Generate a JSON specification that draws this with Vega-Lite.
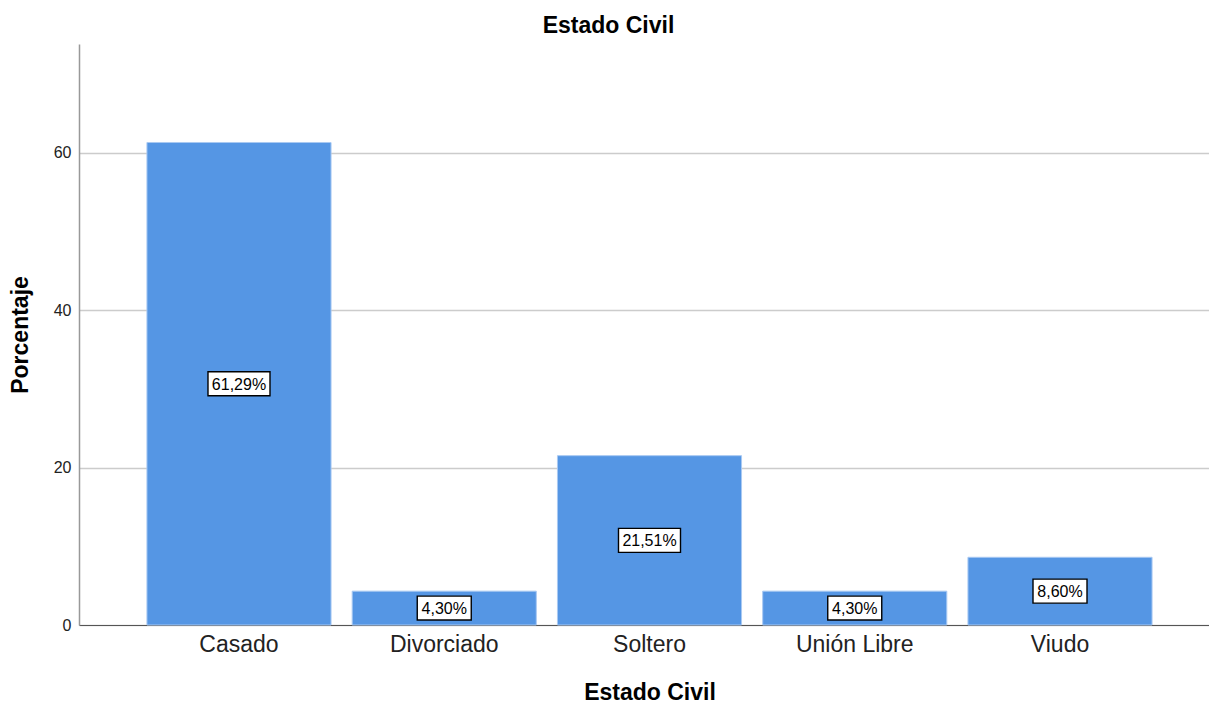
{
  "$schema": "https://vega.github.io/schema/vega-lite/v6.json",
  "autosize": {"type": "none"},
  "padding": {"left": 79, "top": 44, "right": 0, "bottom": 79},
  "width": 1141,
  "height": 581,
  "background": "white",
  "title": {
    "text": "Estado Civil",
    "font": "Liberation Sans",
    "fontSize": 23,
    "fontWeight": "bold",
    "color": "#000000",
    "offset": 6,
    "dx": -41
  },
  "config": {
    "view": {"stroke": null},
    "font": "Liberation Sans"
  },
  "data": {
    "values": [
      {"estado": "Casado", "pct": 61.29, "label": "61,29%"},
      {"estado": "Divorciado", "pct": 4.30, "label": "4,30%"},
      {"estado": "Soltero", "pct": 21.51, "label": "21,51%"},
      {"estado": "Unión Libre", "pct": 4.30, "label": "4,30%"},
      {"estado": "Viudo", "pct": 8.60, "label": "8,60%"}
    ]
  },
  "encoding": {
    "x": {
      "field": "estado",
      "type": "nominal",
      "sort": null,
      "scale": {"paddingInner": 0.103, "paddingOuter": 0.331},
      "axis": {
        "title": "Estado Civil",
        "titleFont": "Liberation Sans",
        "titleFontSize": 23,
        "titleFontWeight": "bold",
        "titleColor": "#000000",
        "titlePadding": 25,
        "labelFont": "Liberation Sans",
        "labelFontSize": 23,
        "labelColor": "#222222",
        "labelAngle": 0,
        "labelPadding": 8,
        "ticks": false,
        "domainColor": "#555555",
        "domainWidth": 1,
        "grid": false
      }
    }
  },
  "layer": [
    {
      "mark": {"type": "bar", "fill": "#5596E4", "stroke": "#a9c9f2", "strokeWidth": 1},
      "encoding": {
        "y": {
          "field": "pct",
          "type": "quantitative",
          "scale": {"domain": [0, 73.8], "nice": false},
          "axis": {
            "title": "Porcentaje",
            "titleFont": "Liberation Sans",
            "titleFontSize": 23,
            "titleFontWeight": "bold",
            "titleColor": "#000000",
            "titlePadding": 21,
            "values": [0, 20, 40, 60],
            "labelFont": "Liberation Sans",
            "labelFontSize": 16,
            "labelColor": "#222222",
            "labelPadding": 8,
            "ticks": false,
            "domainColor": "#999999",
            "domainWidth": 1.5,
            "grid": true,
            "gridColor": "#cccccc",
            "gridWidth": 1.5
          }
        }
      }
    },
    {
      "transform": [{"calculate": "datum.pct / 2", "as": "mid"}],
      "mark": {"type": "point", "filled": true, "fill": "white", "stroke": "#000000", "strokeWidth": 1.4, "opacity": 1},
      "encoding": {
        "y": {"field": "mid", "type": "quantitative"},
        "shape": {
          "condition": {"test": "length(datum.label) > 5", "value": "M-1,-0.387L1,-0.387L1,0.387L-1,0.387Z"},
          "value": "M-1,-0.444L1,-0.444L1,0.444L-1,0.444Z"
        },
        "size": {
          "condition": {"test": "length(datum.label) > 5", "value": 3844},
          "value": 2916
        }
      }
    },
    {
      "transform": [{"calculate": "datum.pct / 2", "as": "mid"}],
      "mark": {"type": "text", "font": "Liberation Sans", "fontSize": 16, "color": "#000000", "baseline": "middle", "dy": 1},
      "encoding": {
        "y": {"field": "mid", "type": "quantitative"},
        "text": {"field": "label"}
      }
    }
  ]
}
